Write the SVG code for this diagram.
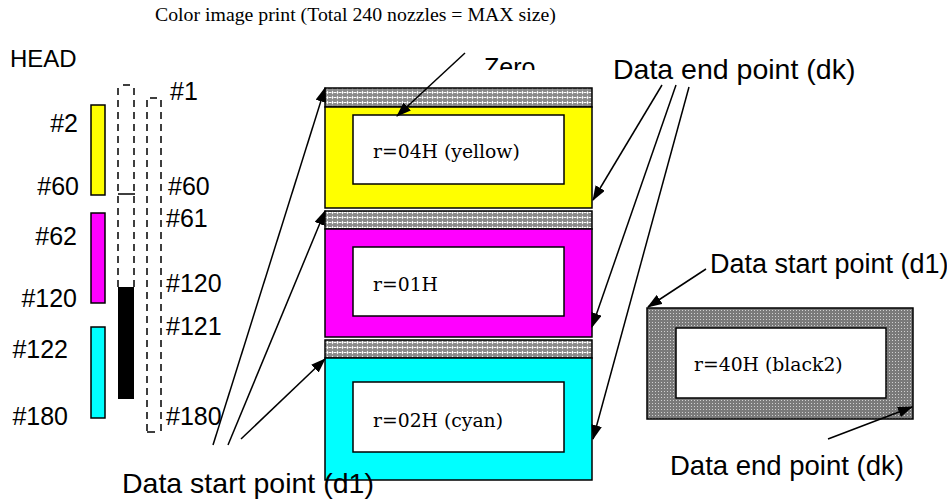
<svg xmlns="http://www.w3.org/2000/svg" width="947" height="502" viewBox="0 0 947 502">
<style>
.lbl{font-family:"Liberation Sans",Arial,sans-serif;font-size:25px;fill:#000}
.head{font-family:"Liberation Sans",Arial,sans-serif;font-size:24px;fill:#000}
.big{font-family:"Liberation Sans",Arial,sans-serif;font-size:28px;fill:#000}
.ttl{font-family:"Liberation Serif","Times New Roman",serif;font-size:19.8px;fill:#000}
.in{font-family:"DejaVu Serif",serif;font-size:18.8px;fill:#000}
.box{stroke:#000;stroke-width:1.5}
.dash{fill:none;stroke:#000;stroke-width:1.5;stroke-dasharray:7,5}
.seg{fill:none;stroke:#000;stroke-width:1.5}
.arr{fill:none;stroke:#000;stroke-width:1.5;marker-end:url(#ah)}
</style>
<defs>
<marker id="ah" viewBox="0 0 14 10" refX="13" refY="5" markerWidth="15" markerHeight="11" markerUnits="userSpaceOnUse" orient="auto">
<path d="M0,0 L14,5 L0,10 z" fill="#000"/>
</marker>
<pattern id="hatch" width="5" height="5" patternUnits="userSpaceOnUse">
<rect width="5" height="5" fill="#8a8a8a"/>
<path d="M2.5,0.5 L3.5,2.5 L2.5,4.5 L1.5,2.5 z" fill="#fff"/>
<rect x="0" y="2" width="1" height="1" fill="#fff"/>
<rect x="4" y="2" width="1" height="1" fill="#fff"/>
</pattern>
<pattern id="fine" width="3" height="3" patternUnits="userSpaceOnUse">
<rect width="3" height="3" fill="#7a7a7a"/>
<rect x="1" y="1" width="1" height="1" fill="#d0d0d0"/>
</pattern>
<clipPath id="zclip"><rect x="470" y="40" width="120" height="30"/></clipPath>
</defs>

<text class="ttl" x="155" y="21">Color image print (Total 240 nozzles = MAX size)</text>

<g id="head">
<text class="head" x="10" y="67">HEAD</text>
<rect class="box" x="91" y="105" width="14" height="90" fill="#ffff00"/>
<rect class="box" x="91" y="213" width="14" height="90" fill="#ff00ff"/>
<rect class="box" x="91" y="327" width="14" height="91" fill="#00ffff"/>
<path class="dash" d="M118,88 V287 M134,88 V287"/>
<path class="seg" d="M123,85 H130 M118,194 H135 M150,98 H157 M147,432 H155"/>
<path class="dash" d="M147,100 V432 M161,100 V432"/>
<rect x="118" y="287" width="16" height="112" fill="#000"/>
<text class="lbl" x="78" y="132" text-anchor="end">#2</text>
<text class="lbl" x="79" y="195" text-anchor="end">#60</text>
<text class="lbl" x="77" y="245" text-anchor="end">#62</text>
<text class="lbl" x="77" y="307" text-anchor="end">#120</text>
<text class="lbl" x="68" y="358" text-anchor="end">#122</text>
<text class="lbl" x="68" y="425" text-anchor="end">#180</text>
<text class="lbl" x="170" y="100">#1</text>
<text class="lbl" x="168" y="195">#60</text>
<text class="lbl" x="166" y="227">#61</text>
<text class="lbl" x="166" y="292">#120</text>
<text class="lbl" x="166" y="335">#121</text>
<text class="lbl" x="166" y="425">#180</text>
</g>

<g id="yellow">
<rect class="box" x="325" y="88" width="267" height="19" fill="url(#hatch)"/>
<rect class="box" x="325" y="107" width="267" height="101" fill="#ffff00"/>
<rect class="box" x="353" y="115" width="211" height="69" fill="#fff"/>
<text class="in" x="373" y="158">r=04H (yellow)</text>
</g>
<g id="magenta">
<rect class="box" x="325" y="211" width="267" height="18" fill="url(#hatch)"/>
<rect class="box" x="325" y="229" width="267" height="108" fill="#ff00ff"/>
<rect class="box" x="353" y="247" width="211" height="69" fill="#fff"/>
<text class="in" x="373" y="291">r=01H</text>
</g>
<g id="cyan">
<rect class="box" x="325" y="340" width="267" height="18" fill="url(#hatch)"/>
<rect class="box" x="325" y="358" width="267" height="122" fill="#00ffff"/>
<rect class="box" x="353" y="382" width="211" height="70" fill="#fff"/>
<text class="in" x="373" y="427">r=02H (cyan)</text>
</g>
<g id="black2">
<rect class="box" x="647" y="308" width="266" height="111" fill="url(#fine)"/>
<rect class="box" x="676" y="328" width="210" height="70" fill="#fff"/>
<text class="in" x="694" y="371">r=40H (black2)</text>
</g>

<g id="labels">
<text class="big" x="122" y="493" style="font-size:28.5px">Data start point (d1)</text>
<text class="big" x="613" y="79" style="font-size:28.5px">Data end point (dk)</text>
<text class="big" x="710" y="273" style="font-size:27px">Data start point (d1)</text>
<text class="big" x="670" y="475" style="font-size:27.5px">Data end point (dk)</text>
<text class="lbl" x="484" y="76" clip-path="url(#zclip)">Zero</text>
</g>

<g id="connectors">
<line class="arr" x1="213" y1="445" x2="325" y2="88"/>
<line class="arr" x1="228" y1="445" x2="325" y2="211"/>
<line class="arr" x1="241" y1="439" x2="325" y2="359"/>
<line class="arr" x1="662" y1="85" x2="593" y2="200"/>
<line class="arr" x1="676" y1="85" x2="592" y2="327"/>
<line class="arr" x1="689" y1="87" x2="593" y2="439"/>
<line class="arr" x1="465" y1="53" x2="397" y2="116"/>
<line class="arr" x1="706" y1="269" x2="648" y2="307"/>
<line class="arr" x1="828" y1="439" x2="912" y2="407"/>
</g>
</svg>
